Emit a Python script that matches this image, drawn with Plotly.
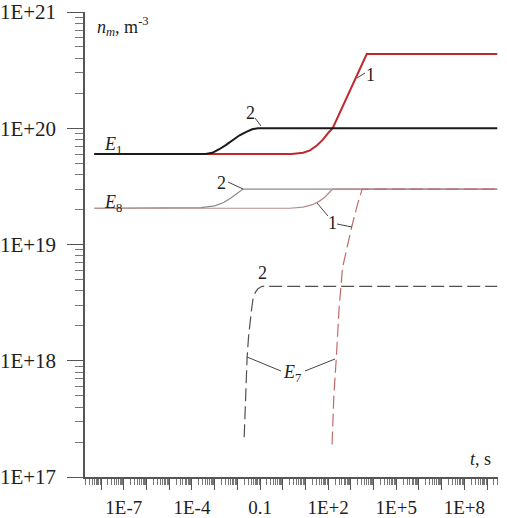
import plotly.graph_objects as go

# ---------------------------------------------------------------------------
# Datos (t en s, n_m en m^-3)
# ---------------------------------------------------------------------------
# E1, curva 1 (roja)
e1_c1_t = [5.0e-9, 2.5, 7.9, 15.8, 31.6, 56.0, 100.0, 158.0, 5000.0, 2.8e9]
e1_c1_n = [6.0e19, 6.0e19, 6.15e19, 6.45e19, 7.1e19, 7.9e19, 9.1e19, 1.0e20, 4.35e20, 4.35e20]

# E1, curva 2 (negra)
e1_c2_t = [5.0e-9, 4.0e-4, 7.9e-4, 1.6e-3, 3.2e-3, 6.3e-3, 1.26e-2, 2.5e-2, 4.5e-2, 7.9e-2, 2.8e9]
e1_c2_n = [6.0e19, 6.0e19, 6.15e19, 6.6e19, 7.2e19, 7.9e19, 8.7e19, 9.3e19, 9.8e19, 1.0e20, 1.0e20]

# E8, curva 2 (gris)
e8_c2_t = [5.0e-9, 6.3e-5, 2.5e-4, 1.0e-3, 2.5e-3, 5.0e-3, 8.9e-3, 1.41e-2, 1.78e-2, 2.8e9]
e8_c2_n = [2.05e19, 2.05e19, 2.08e19, 2.15e19, 2.3e19, 2.5e19, 2.72e19, 2.9e19, 3.0e19, 3.0e19]

# E8, curva 1 (rojiza fina)
e8_c1_t = [5.0e-9, 2.0, 7.9, 20.0, 40.0, 71.0, 112.0, 158.0, 2.8e9]
e8_c1_n = [2.05e19, 2.05e19, 2.1e19, 2.2e19, 2.35e19, 2.55e19, 2.8e19, 3.0e19, 3.0e19]

# E7, curva 1 (discontinua rojiza)
e7_c1_t = [148.0, 178.0, 224.0, 302.0, 427.0, 708.0, 1122.0, 2000.0, 3162.0, 2.8e9]
e7_c1_n = [1.9e17, 5.0e17, 1.0e18, 2.8e18, 6.3e18, 1.0e19, 1.45e19, 2.25e19, 3.0e19, 3.0e19]

# E7, curva 2 (discontinua gris oscuro)
e7_c2_t = [0.020, 0.0229, 0.0269, 0.0316, 0.0363, 0.0427, 0.049, 0.063, 0.081, 0.123, 2.8e9]
e7_c2_n = [2.2e17, 5.6e17, 1.07e18, 1.66e18, 2.24e18, 2.8e18, 3.4e18, 3.9e18, 4.17e18, 4.37e18, 4.37e18]

x_decades = [10.0 ** k for k in range(-8, 10)]
x_tick_labels = ['', '1E-7', '', '', '1E-4', '', '', '0.1', '', '',
                 '1E+2', '', '', '1E+5', '', '', '1E+8', '']
y_decades = [1e17, 1e18, 1e19, 1e20, 1e21]
y_tick_labels = ['1E+17', '1E+18', '1E+19', '1E+20', '1E+21']

FONT = 'Liberation Serif'
TXT = '#1e1e1e'
AX = '#555555'

W, H = 507, 518
L, R, T, B = 85, 9, 12, 41


def px(x):
    return (x - L) / (W - L - R)


def py(y):
    return (H - B - y) / (H - T - B)


fig = go.Figure()

series = [
    (e8_c2_t, e8_c2_n, '#8a8a8a', 1.2, 'solid'),
    (e8_c1_t, e8_c1_n, '#b58a8a', 1.2, 'solid'),
    (e7_c2_t, e7_c2_n, '#505050', 1.2, '13px,5px'),
    (e7_c1_t, e7_c1_n, '#c46a6a', 1.2, '13px,5px'),
    (e1_c1_t, e1_c1_n, '#c0282d', 2.0, 'solid'),
    (e1_c2_t, e1_c2_n, '#1a1a1a', 2.0, 'solid'),
]
for t, n, color, width, dash in series:
    fig.add_trace(go.Scatter(
        x=t, y=n, mode='lines',
        line=dict(color=color, width=width, dash=dash),
        showlegend=False, hoverinfo='skip',
    ))

# Etiquetas
labels = [
    ('<i>n</i><sub><i>m</i></sub>, m<sup>-3</sup>', 95, 26, 'left'),
    ('<i>t</i>, s', 480, 459, 'center'),
    ('<i>E</i><sub>1</sub>', 113, 145, 'center'),
    ('<i>E</i><sub>8</sub>', 113, 203, 'center'),
    ('<i>E</i><sub>7</sub>', 292, 373, 'center'),
    ('2', 250, 113, 'center'),
    ('1', 370, 75, 'center'),
    ('2', 221, 183, 'center'),
    ('1', 332, 223, 'center'),
    ('2', 262, 273, 'center'),
]
for text, x, y, anchor in labels:
    fig.add_annotation(
        text=text, xref='paper', yref='paper', x=px(x), y=py(y),
        xanchor=anchor, yanchor='middle', showarrow=False,
        font=dict(family=FONT, size=18, color=TXT),
    )

leaders = [
    (255, 118, 261, 126),
    (357, 78, 365, 73),
    (228, 182, 243, 189),
    (317, 203, 328, 216),
    (337, 224, 352, 227),
    (247, 357, 281, 371),
    (305, 371, 335, 359),
]
for x0, y0, x1, y1 in leaders:
    fig.add_shape(type='line', xref='paper', yref='paper',
                  x0=px(x0), y0=py(y0), x1=px(x1), y1=py(y1),
                  line=dict(color='#444444', width=1))

x_minor = [m * 10.0 ** k for k in range(-9, 10) for m in range(2, 10)]
y_minor = [m * 10.0 ** k for k in range(17, 21) for m in range(2, 10)]

fig.update_layout(
    width=W, height=H,
    margin=dict(l=L, r=R, t=T, b=B, autoexpand=False),
    paper_bgcolor='white', plot_bgcolor='white',
    font=dict(family=FONT, color=TXT),
    xaxis=dict(
        type='log', range=[-8.71, 9.48],
        tickmode='array', tickvals=x_decades, ticktext=x_tick_labels,
        ticks='outside', ticklen=11, tickwidth=1, tickcolor=AX,
        ticklabelstandoff=1, ticklabeloverflow='allow',
        tickfont=dict(family=FONT, size=19, color=TXT),
        minor=dict(tickmode='array', tickvals=x_minor, ticks='outside',
                   ticklen=6, tickwidth=1, tickcolor='#777777', showgrid=False),
        showline=True, linecolor=AX, linewidth=1.5,
        showgrid=False, zeroline=False, automargin=False,
    ),
    yaxis=dict(
        type='log', range=[17, 21],
        tickmode='array', tickvals=y_decades, ticktext=y_tick_labels,
        ticks='outside', ticklen=16, tickwidth=1, tickcolor=AX,
        ticklabelstandoff=7, ticklabeloverflow='allow',
        tickfont=dict(family=FONT, size=21, color=TXT),
        minor=dict(tickmode='array', tickvals=y_minor, ticks='outside',
                   ticklen=8, tickwidth=1, tickcolor='#777777', showgrid=False),
        showline=True, linecolor=AX, linewidth=1.5,
        showgrid=False, zeroline=False, automargin=False,
    ),
)

# quitar el margen por defecto del body para que el grafico empiece en (0, 0)
fig.write_html("out.html", config={'displayModeBar': False},
               post_script="document.body.style.margin = '0px';")
